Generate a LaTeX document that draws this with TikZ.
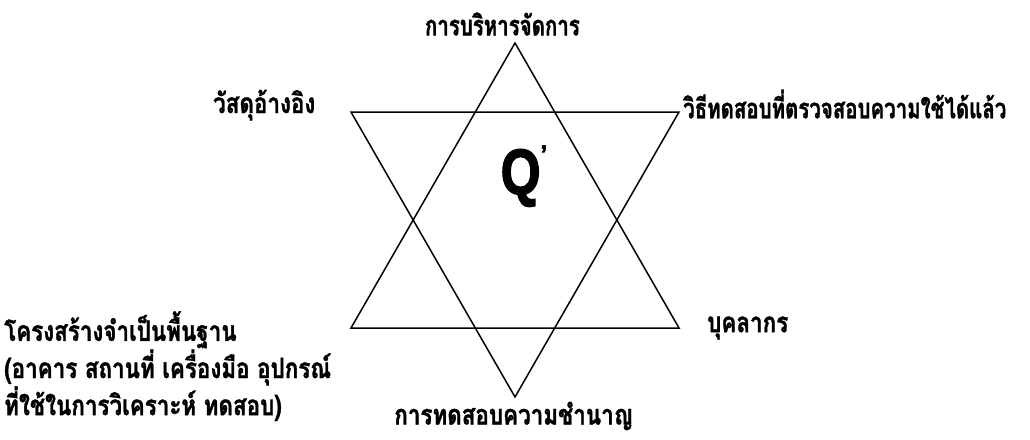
\documentclass[tikz,border=0pt]{standalone}
\usepackage{fontspec}
\usepackage{graphicx}
\newfontfamily\thaiA[Script=Thai, FakeStretch=0.8, FakeBold=1.2]{Loma}
\newfontfamily\thaiB[Script=Thai, FakeStretch=0.73, FakeBold=1.2]{Loma}
\newfontfamily\qfont[FakeBold=2.5]{Liberation Sans}
\begin{document}
\begin{tikzpicture}[x=1pt,y=-1pt,
  lbl/.style={font=\thaiA\bfseries\fontsize{28}{30}\selectfont, inner sep=0pt},
  lblb/.style={font=\thaiB\bfseries\fontsize{28}{30}\selectfont, inner sep=0pt},
  edge/.style={line width=1.5pt, line join=miter}]
\useasboundingbox (0,0) rectangle (1030,439);
% star vertices
\coordinate (uT) at (515,43);
\coordinate (uL) at (351,328);
\coordinate (uR) at (679,328);
\coordinate (dL) at (351,112);
\coordinate (dR) at (679,112);
\coordinate (dB) at (515,397);
\draw[edge] (uT) -- (uL) -- (uR) -- cycle;
\draw[edge] (dL) -- (dR) -- (dB) -- cycle;
% labels
\node[lblb, anchor=east] (top) at (580,24) {การบริหารจัดการ};
\node[lbl, anchor=west] (ref) at (213,105) {วัสดุอ้างอิง};
\node[lblb, anchor=west] (meth) at (683,104) {วิธีทดสอบที่ตรวจสอบความใช้ได้แล้ว};
\node[lbl, anchor=north west, align=left] (infra) at (4,311) {โครงสร้างจำเป็นพื้นฐาน\\(อาคาร สถานที่ เครื่องมือ อุปกรณ์\\ที่ใช้ในการวิเคราะห์ ทดสอบ)};
\node[lbl, anchor=west] (staff) at (707,328) {บุคลากร};
\node[lbl, anchor=east] (pt) at (633,416) {การทดสอบความชำนาญ};
\node[font=\qfont\bfseries\fontsize{64}{66}\selectfont, inner sep=0pt] (q) at (524,176) {\scalebox{0.8}[1]{Q}\raisebox{0.5em}{\fontsize{24}{24}\selectfont\textquoteright}};
\end{tikzpicture}
\end{document}
